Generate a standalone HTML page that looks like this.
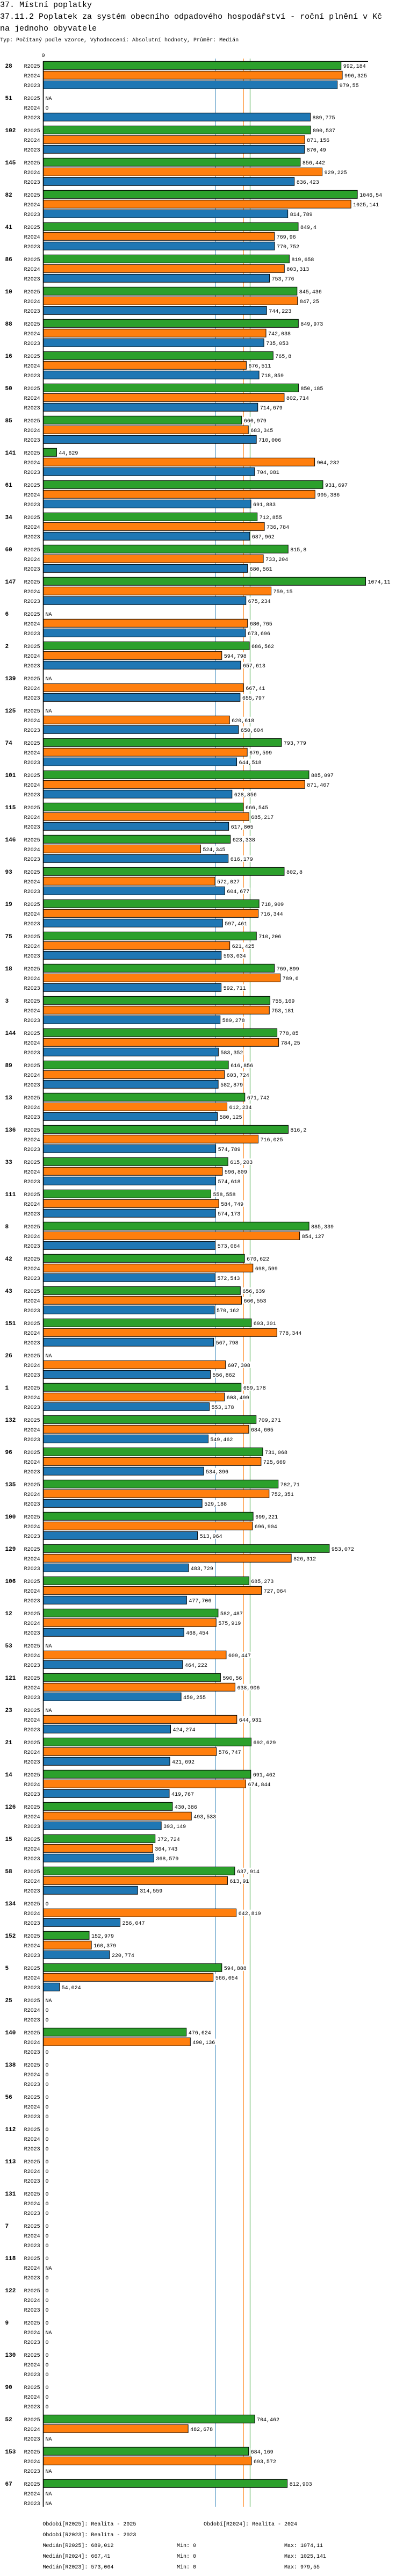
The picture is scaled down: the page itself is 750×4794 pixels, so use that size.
<!DOCTYPE html>
<html><head><meta charset="utf-8">
<style>
html,body{margin:0;padding:0;background:#fff;}
svg{display:block;}
text{font-family:"Liberation Mono","DejaVu Sans Mono",monospace;fill:#000;}
</style></head>
<body>
<svg id="chart" width="750" height="4794" viewBox="0 0 750 4794" xmlns="http://www.w3.org/2000/svg">
<text x="0" y="13" font-size="15">37. Místní poplatky</text>
<text x="0" y="35" font-size="15">37.11.2 Poplatek za systém obecního odpadového hospodářství  - roční plnění v Kč</text>
<text x="0" y="57" font-size="15">na jednoho obyvatele</text>
<text x="0" y="77" font-size="10">Typ: Počítaný podle vzorce, Vyhodnocení: Absolutní hodnoty, Průměr: Medián</text>
<g id="plot"></g>
</svg>
<script>
const categories = ["28","51","102","145","82","41","86","10","88","16","50","85","141","61","34","60","147","6","2","139","125","74","101","115","146","93","19","75","18","3","144","89","13","136","33","111","8","42","43","151","26","1","132","96","135","100","129","106","12","53","121","23","21","14","126","15","58","134","152","5","25","140","138","56","112","113","131","7","118","122","9","130","90","52","153","67"];
const seriesNames = ["R2025","R2024","R2023"];
const values2025 = [992.184,null,890.537,856.442,1046.54,849.4,819.658,845.436,849.973,765.8,850.185,660.979,44.629,931.697,712.855,815.8,1074.11,null,686.562,null,null,793.779,885.097,666.545,623.338,802.8,718.909,710.206,769.899,755.169,778.85,616.856,671.742,816.2,615.203,558.558,885.339,670.622,656.639,693.301,null,659.178,709.271,731.068,782.71,699.221,953.072,685.273,582.487,null,590.56,null,692.629,691.462,430.386,372.724,637.914,0,152.979,594.888,null,476.624,0,0,0,0,0,0,0,0,0,0,0,704.462,684.169,812.903];
const values2024 = [996.325,0,871.156,929.225,1025.141,769.96,803.313,847.25,742.038,676.511,802.714,683.345,904.232,905.386,736.784,733.204,759.15,680.765,594.798,667.41,620.618,679.599,871.407,685.217,524.345,572.027,716.344,621.425,789.6,753.181,784.25,603.724,612.234,716.025,596.809,584.749,854.127,698.599,660.553,778.344,607.308,603.499,684.605,725.669,752.351,696.904,826.312,727.064,575.919,609.447,638.906,644.931,576.747,674.844,493.533,364.743,613.91,642.819,160.379,566.054,0,490.136,0,0,0,0,0,0,null,0,null,0,0,482.678,693.572,null];
const values2023 = [979.55,889.775,870.49,836.423,814.789,770.752,753.776,744.223,735.053,718.859,714.679,710.006,704.081,691.883,687.962,680.561,675.234,673.696,657.613,655.797,650.604,644.518,628.856,617.805,616.179,604.677,597.461,593.034,592.711,589.278,583.352,582.879,580.125,574.789,574.618,574.173,573.064,572.543,570.162,567.798,556.862,553.178,549.462,534.396,529.188,513.964,483.729,477.706,468.454,464.222,459.255,424.274,421.692,419.767,393.149,368.579,314.559,256.047,220.774,54.024,0,0,0,0,0,0,0,0,0,0,0,0,0,null,null,null];
const medians = [689.012,667.41,573.064];
const mins = [0,0,0];
const maxs = [1074.11,1025.141,979.55];

const NS="http://www.w3.org/2000/svg";
const colors=["#2ca02c","#ff7f0e","#1f77b4"];
const X0=80.5, K=0.5586, TOP=114.3, GROUP=60, ROW=18, BARH=15;
const xScale=v=>X0+v*K;
const yRow=(g,r)=>TOP+g*GROUP+r*ROW;
const plot=document.getElementById('plot');
const series=[values2025,values2024,values2023];
function mk(tag,attrs,parent){const e=document.createElementNS(NS,tag);for(const k in attrs)e.setAttribute(k,attrs[k]);(parent||plot).appendChild(e);return e;}
const fmt=v=>String(v).replace('.',',');
const bottom=yRow(categories.length-1,0)+51;

let t=mk('text',{x:X0-3,y:106,'font-size':10});t.textContent='0';


let l=mk('line',{x1:X0,x2:685,y1:TOP,y2:TOP,stroke:'#000','stroke-width':1.3});



for(let s=0;s<3;s++){
  const ml=mk('line',{x1:xScale(medians[s]),x2:xScale(medians[s]),y1:109,y2:bottom,stroke:colors[s],'stroke-width':1});
  
  
}

categories.forEach((c,g)=>{
  const gl=mk('text',{x:9.5,y:yRow(g,0)+11.5,'font-size':11,'font-weight':'bold'});
  gl.textContent=c;
  
  
  for(let r=0;r<3;r++){
    const y=yRow(g,r), v=series[r][g];
    const rl=mk('text',{x:74.6,y:y+11.5,'font-size':10,'text-anchor':'end'});
    rl.textContent=seriesNames[r];
    
    
    let labelX=X0+4, label;
    if(v===null){label='NA';}
    else{
      label=fmt(v);
      if(v>0){
        const b=mk('rect',{x:X0,y:y,width:xScale(v)-X0,height:BARH,fill:colors[r],stroke:'#000','stroke-width':1});
        
        
        labelX=xScale(v)+4;
      }
    }
    const w=label.length*6+2;
    const bg=mk('rect',{x:labelX-1,y:y+1.5,width:w,height:12,fill:'#fff'});
    
    
    const vl=mk('text',{x:labelX,y:y+11.5,'font-size':10});
    vl.textContent=label;
    
    
  }
});

const ax=mk('line',{x1:X0,x2:X0,y1:TOP,y2:bottom,stroke:'#000','stroke-width':1.6});



const legend=[
  [79.4,4700,'Období[R2025]: Realita - 2025'],
  [379,4700,'Období[R2024]: Realita - 2024'],
  [79.4,4720,'Období[R2023]: Realita - 2023']
];
for(let s=0;s<3;s++){
  const yy=4740+s*20;
  legend.push([79.4,yy,'Medián['+seriesNames[s]+']: '+fmt(medians[s])]);
  legend.push([329,yy,'Min: '+fmt(mins[s])]);
  legend.push([529,yy,'Max: '+fmt(maxs[s])]);
}
legend.forEach(([x,y,s])=>{
  const e=mk('text',{x:x,y:y,'font-size':10});
  e.textContent=s;
  
  
});
</script>
</body></html>
